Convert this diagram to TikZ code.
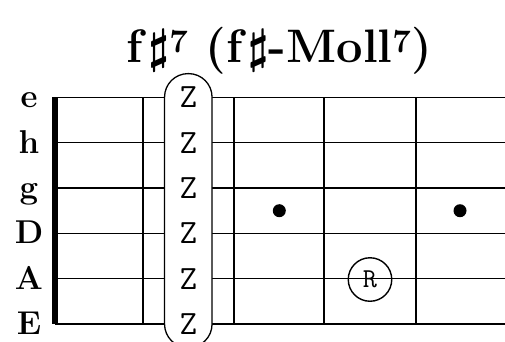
\documentclass[tikz,border=0pt]{standalone}
\usepackage{graphicx}
\newcommand\shp{\scalebox{1.9}{\ensuremath{\sharp}}}
\newcommand\sev{\textsuperscript{7}}
\newcommand\zglyph{\scalebox{1.37}{Z}}
\newcommand\rglyph{\scalebox{1.1}{R}}
\begin{document}
\begin{tikzpicture}[x=1pt,y=1pt]
\tikzset{
  gstring/.style={line width=1.2pt},
  fret/.style={line width=1.7pt},
  lbl/.style={font=\fontsize{33}{38}\selectfont\bfseries, anchor=base, inner sep=0pt},
  zz/.style={font=\fontsize{24.88}{28}\selectfont\ttfamily, inner sep=0pt},
  fdot/.style={circle, fill=black, minimum size=13pt, inner sep=0pt},
  ring/.style={circle, draw, line width=1.4pt, minimum size=43.5pt, inner sep=0pt, font=\fontsize{24.88}{28}\selectfont\ttfamily},
  ttl/.style={font=\fontsize{47}{52}\selectfont\bfseries\boldmath, anchor=base, inner sep=0pt}
}
\useasboundingbox (0,0) rectangle (505,-341);
\begin{scope}
\clip (0,0) rectangle (505,-341);
% strings and labels
\foreach \y/\n/\m in {97.3/e/se,142.7/h/sh,188/g/sg,233.3/D/sD,278.7/A/sA,324/E/sE}{
  \draw[gstring] (55,-\y) -- (505,-\y);
  \node[lbl] (\m) at (29,-\y-10.5) {\n};
}
% nut
\draw[line width=5.5pt] (55,-97.3) -- (55,-324);
% frets
\foreach \x in {143.3,234.3,324.3,415.7}
  \draw[fret] (\x,-97.3) -- (\x,-324);
% barre
\node[draw, fill=white, line width=1.3pt, rounded corners=23.5pt, minimum width=47.5pt, minimum height=274pt, inner sep=0pt] (barre) at (188.3,-210.6) {};
\foreach \y/\m in {97.3/z1,142.7/z2,188/z3,233.3/z4,278.7/z5,324/z6}
  \node[zz] (\m) at (188.5,-\y) {\zglyph};
% dots
\node[fdot] (d1) at (279.3,-210.7) {};
\node[fdot] (d2) at (460,-210.7) {};
\node[ring] (root) at (370,-279.5) {\rglyph};
\end{scope}
% heading
\node[ttl] (heading) at (279.5,-62) {f\kern5pt\shp\sev{} (f\kern5pt\shp-Moll\sev)};
\end{tikzpicture}
\end{document}
